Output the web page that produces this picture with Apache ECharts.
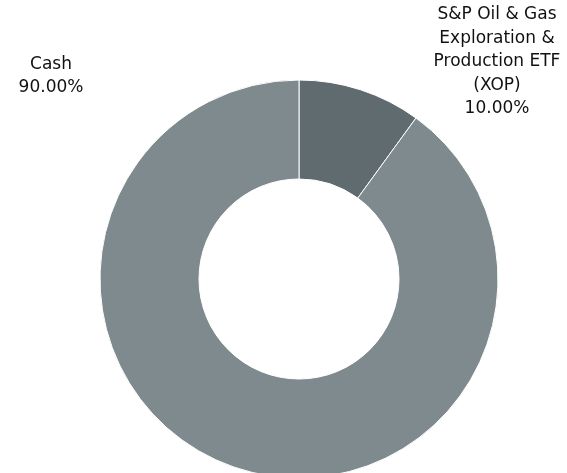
<!DOCTYPE html>
<html><head><meta charset="utf-8">
<script src="https://cdn.jsdelivr.net/npm/echarts@6/dist/echarts.min.js"></script>
<style>html,body{margin:0;padding:0;background:#fff}#c{width:567px;height:473px}</style>
</head><body><div id="c"></div>
<script>
const categories = ["S&P Oil & Gas\nExploration &\nProduction ETF\n(XOP)", "Cash"];
const values = [10, 90];
const colors = ["#5f6b6e", "#7f8a8e"];
const labelPos = [[497, 62], [51, 76]];

const chart = echarts.init(document.getElementById('c'));
chart.setOption({
  animation: false,
  series: [{
    type: 'pie',
    center: [299, 279],
    radius: [100, 199],
    startAngle: 90,
    clockwise: true,
    data: categories.map((n, i) => ({name: n, value: values[i], itemStyle: {color: colors[i]}})),
    itemStyle: {borderColor: '#fff', borderWidth: 1},
    label: {
      show: true,
      position: 'outside',
      formatter: p => p.name + '\n' + p.value.toFixed(2) + '%',
      fontFamily: 'DejaVu Sans',
      fontSize: 17,
      lineHeight: 23.5,
      color: '#111',
      align: 'center'
    },
    labelLine: {show: false},
    labelLayout: p => ({x: labelPos[p.dataIndex][0], y: labelPos[p.dataIndex][1], align: 'center', verticalAlign: 'middle'}),
    emphasis: {disabled: true}
  }]
});
</script></body></html>
